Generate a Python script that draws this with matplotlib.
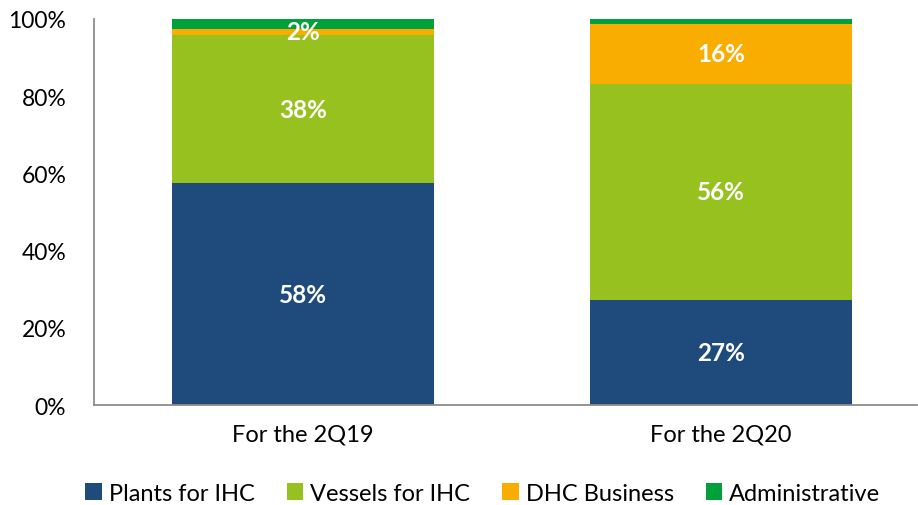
import numpy as np
import matplotlib
matplotlib.use("Agg")
import matplotlib.pyplot as plt
from matplotlib.patches import Patch
from matplotlib.ticker import PercentFormatter

plt.rcParams["font.family"] = ["Lato", "DejaVu Sans"]

periods = ["For the 2Q19", "For the 2Q20"]
segments = ["Plants for IHC", "Vessels for IHC", "DHC Business", "Administrative"]
plants = [57.5, 27.2]
vessels = [38.3, 56.0]
dhc = [1.7, 15.6]
admin = [2.5, 1.2]
colors = ["#1F4A7C", "#96C11F", "#F9AD00", "#00A13A"]

series = [plants, vessels, dhc, admin]
labelled = [True, True, True, False]

fig = plt.figure(figsize=(9.18, 5.06), dpi=100)
ax = fig.add_axes([0.1024, 0.1976, 0.8966, 0.7629])

x = np.arange(len(periods))
bottom = np.zeros(len(periods))
for vals, col, lab in zip(series, colors, labelled):
    vals = np.asarray(vals)
    ax.bar(x, vals, width=0.627, bottom=bottom, color=col, edgecolor="none")
    if lab:
        for xi, b, v in zip(x, bottom, vals):
            ax.text(xi, b + v / 2, f"{v:.0f}%", ha="center", va="center",
                    color="white", fontsize=17.5, fontweight="bold")
    bottom += vals

ax.set_xlim(-0.5, 1.469)
ax.set_ylim(0, 100)
ax.set_yticks(np.arange(0, 101, 20))
ax.yaxis.set_major_formatter(PercentFormatter(decimals=0))
ax.set_xticks(x)
ax.set_xticklabels(periods)
ax.tick_params(axis="both", length=0, labelsize=16.5, colors="black")
ax.tick_params(axis="x", labelsize=17, pad=13)
ax.tick_params(axis="y", pad=20)
for s in ["top", "right"]:
    ax.spines[s].set_visible(False)
for s in ["left", "bottom"]:
    ax.spines[s].set_color("#8C8C8C")
    ax.spines[s].set_linewidth(1.3)

handles = [Patch(facecolor=c, edgecolor="none", label=n) for c, n in zip(colors, segments)]
fig.legend(handles=handles, loc="center", bbox_to_anchor=(0.526, 0.023), ncol=4,
           frameon=False, fontsize=17, handlelength=0.7, handleheight=0.7,
           handletextpad=0.3, columnspacing=1.35)

fig.savefig("out.png", dpi=100)
